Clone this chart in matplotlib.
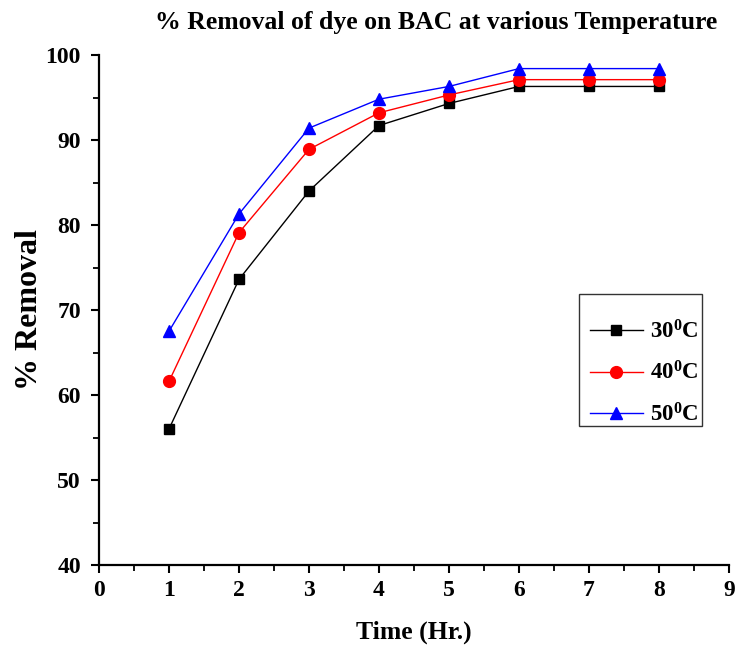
import matplotlib
matplotlib.use("Agg")
import matplotlib.pyplot as plt
from matplotlib.ticker import MultipleLocator
from matplotlib.patches import Rectangle

plt.rcParams['font.family'] = ['Liberation Serif', 'DejaVu Serif']
plt.rcParams['font.weight'] = 'bold'
plt.rcParams['mathtext.fontset'] = 'custom'
plt.rcParams['mathtext.rm'] = 'Liberation Serif:bold'
plt.rcParams['mathtext.it'] = 'Liberation Serif:bold'
plt.rcParams['mathtext.bf'] = 'Liberation Serif:bold'

time_hr = [1, 2, 3, 4, 5, 6, 7, 8]
removal_30 = [56.0, 73.6, 84.0, 91.7, 94.3, 96.3, 96.3, 96.3]
removal_40 = [61.6, 79.1, 88.9, 93.2, 95.3, 97.1, 97.1, 97.1]
removal_50 = [67.5, 81.3, 91.4, 94.8, 96.3, 98.4, 98.4, 98.4]
labels = [r'30$^{0}$C', r'40$^{0}$C', r'50$^{0}$C']
title = '% Removal of dye on BAC at various Temperature'

W, H = 736, 645
fig = plt.figure(figsize=(W/100, H/100), dpi=100)
ax = fig.add_axes([99/W, 80/H, 630/W, 510/H])

ax.plot(time_hr, removal_30, color='black', lw=1, marker='s', ms=7, label=labels[0])
ax.plot(time_hr, removal_40, color='#ff0000', lw=1, marker='o', ms=8.5, label=labels[1])
ax.plot(time_hr, removal_50, color='#0000ff', lw=1, marker='^', ms=9, label=labels[2])

ax.set_xlim(0, 9)
ax.set_ylim(40, 100)
ax.xaxis.set_major_locator(MultipleLocator(1))
ax.xaxis.set_minor_locator(MultipleLocator(0.5))
ax.yaxis.set_major_locator(MultipleLocator(10))
ax.yaxis.set_minor_locator(MultipleLocator(5))
for s in ['top', 'right']:
    ax.spines[s].set_visible(False)
for s in ['left', 'bottom']:
    ax.spines[s].set_linewidth(1.6)
ax.tick_params(which='major', direction='out', length=6, width=1.5, labelsize=17)
ax.tick_params(which='minor', direction='out', length=4, width=1.3)
ax.tick_params(axis='y', which='major', pad=7)
ax.tick_params(axis='x', which='major', pad=5)
for lab in ax.get_xticklabels() + ax.get_yticklabels():
    lab.set_fontweight('bold')

ax.set_xlabel('Time (Hr.)', fontsize=18.5, fontweight='bold', labelpad=14)
ax.set_ylabel('% Removal', fontsize=23, fontweight='bold', labelpad=1)
fig.text(436/W, 1 - 22/H, title, ha='center', va='center', fontsize=18.5, fontweight='bold')

# legend frame drawn separately
fig.patches.append(Rectangle((579/W, 1 - 426/H), 123/W, 132/H, transform=fig.transFigure,
                             fill=False, edgecolor='#333333', linewidth=1.0))
leg = ax.legend(loc='upper left', bbox_to_anchor=(590/W, 1 - 320/H), bbox_transform=fig.transFigure,
                fontsize=16.5, frameon=False,
                handlelength=2.3, labelspacing=0.8, borderpad=0, handletextpad=0.3,
                borderaxespad=0)
for t in leg.get_texts():
    t.set_fontweight('bold')

fig.savefig('out.png', dpi=100)
